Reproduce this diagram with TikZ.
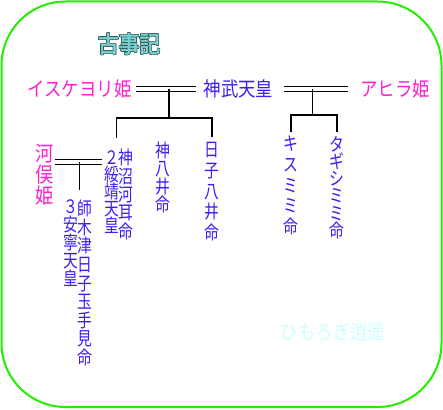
\documentclass[tikz,border=0pt]{standalone}
\usepackage{fontspec}
\newfontfamily\jp[FakeStretch=0.87]{Noto Sans CJK JP}
\newfontfamily\jpv[FakeStretch=0.8]{Noto Sans CJK JP}
\newfontfamily\jpbold[FakeBold=2.5,FakeStretch=0.9]{Noto Sans CJK JP}
\usepackage{tikz}
\usepackage{contour}
\contourlength{0.5pt}
\definecolor{kname}{HTML}{3A1EF5}
\definecolor{hname}{HTML}{FF1ED2}
\definecolor{frame}{HTML}{22EE00}
\definecolor{titleteal}{HTML}{7AD2D2}
\definecolor{titleedge}{HTML}{2F5252}
\definecolor{markcyan}{HTML}{CCFFFF}
\tikzset{
	kami/.style={text=kname, inner sep=1pt, font=\jp\fontsize{20}{20}\selectfont},
	hime/.style={kami, text=hname},
	vname/.style={text=kname, align=center, anchor=north, inner sep=0pt, font=\jpv\fontsize{18.5}{#1}\selectfont},
	vname/.default=18,
	kinship/.style={black, line width=1.6pt},
	marriage/.style={black, double, double distance=3.4pt, line width=1.6pt}
}

\begin{document}
\begin{tikzpicture}[x=1pt, y=-1pt]
				\useasboundingbox (0,0) rectangle (443,409);
				\draw[frame, line width=2pt, rounded corners=64pt] (1.5,1.5) rectangle (441.5,407);
				
				\node[hime] (iske) at (79.5,89) {イスケヨリ姫};
				\node[kami] (jimmu) at (238.5,89) {神武天皇};
				\node[hime] (ahira) at (395,89) {アヒラ姫};
				
				\node[vname=21, text=hname, font=\jp\fontsize{21}{21}\selectfont] (kawamata) at (45,144) {河\\俣\\姫};
				\node[vname=17.2] (suizei) at (112,150) {２\\綏\\靖\\天\\皇};
				\node[vname=18.4] (nunakawa) at (126,149) {神\\沼\\河\\耳\\命};
				\node[vname=18] (yai) at (163,142) {神\\八\\井\\命};
				\node[vname=20.8] (hikoyai) at (212,142) {日\\子\\八\\井\\命};
				\node[vname=20.6] (kisumimi) at (291,136) {キ\\ス\\ミ\\ミ\\命};
				\node[vname=17.2] (tagishi) at (337,136) {タ\\ギ\\シ\\ミ\\ミ\\命};
				\node[vname=18] (annei) at (71,199) {３\\安\\寧\\天\\皇};
				\node[vname=18.6] (shiki) at (85,200) {師\\木\\津\\日\\子\\玉\\手\\見\\命};
				
				\draw[marriage, shorten <=3.5pt, shorten >=6.7pt] (iske.east) -- coordinate[pos=0.52] (wed1) (jimmu.west);
				\draw[marriage, shorten <=9.7pt, shorten >=11pt] (jimmu.east) -- coordinate[pos=0.45] (wed2) (ahira.west);
				\draw[marriage, shorten <=1pt, shorten >=2.5pt] (kawamata.east |- 0,162) -- coordinate (wed3) (suizei.west |- 0,162);
				
				\draw[kinship] (wed1) -- ++(0,29) coordinate (fork1);
				\draw[kinship] ([shift={(-3pt,12pt)}]suizei.north east) |- (fork1) -| ([yshift=5pt]hikoyai.north);
				\draw[kinship] (wed2) -- ++(0,26) coordinate (fork2);
				\draw[kinship] ([yshift=4pt]kisumimi.north) |- (fork2) -| ([yshift=4pt]tagishi.north);
				\draw[kinship] (wed3) -- ++(0,28);
				
				\node[font=\jp\fontsize{20}{20}\selectfont, text=markcyan] (sign) at (333,332) {ひもろぎ逍遥};
				\node[font=\jpbold\fontsize{23}{23}\selectfont, text=titleteal] (kojiki) at (129,44) {\contour{titleedge}{古事記}};
			\end{tikzpicture}
\end{document}
